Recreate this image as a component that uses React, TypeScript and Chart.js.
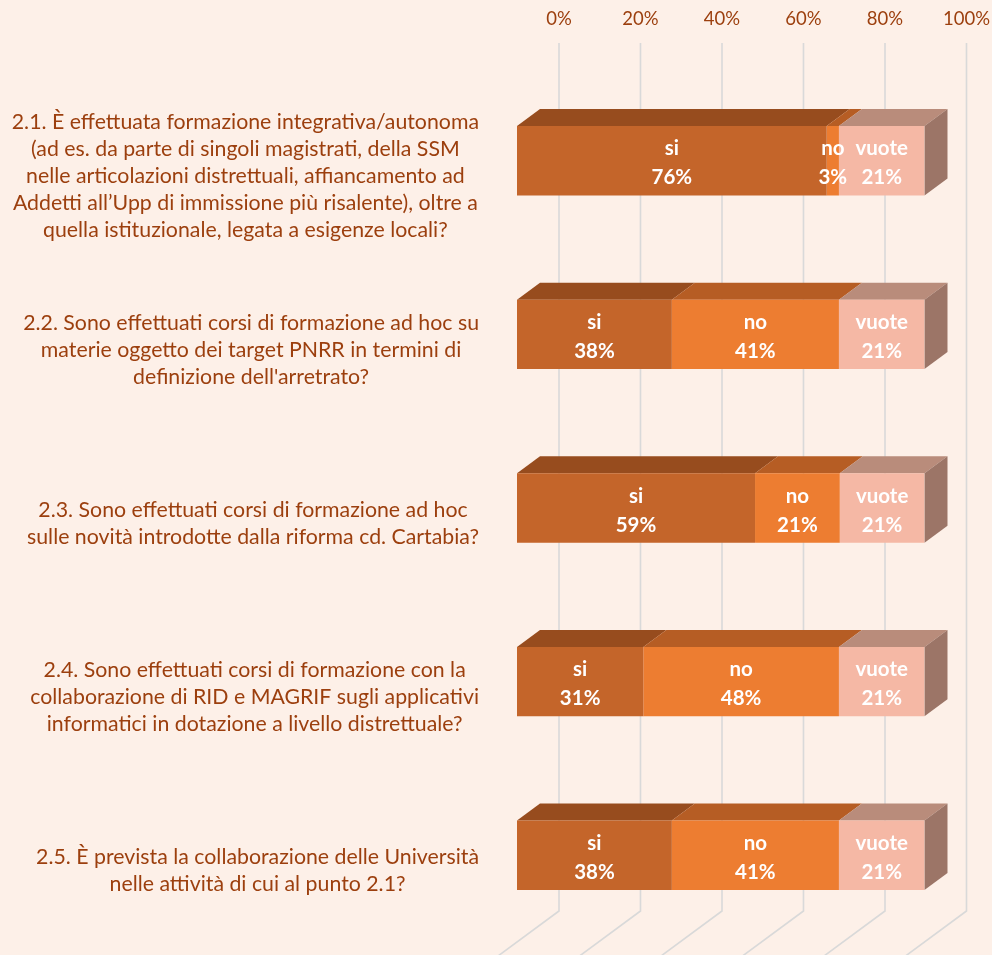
import React, { useEffect, useRef } from "react";
import { Chart, registerables } from "chart.js";

Chart.register(...registerables);

const questions: string[][] = [
  [
    "2.1. È effettuata formazione integrativa/autonoma",
    "(ad es. da parte di singoli magistrati, della SSM",
    "nelle articolazioni distrettuali, affiancamento ad",
    "Addetti all’Upp di immissione più risalente), oltre a",
    "quella istituzionale, legata a esigenze locali?",
  ],
  [
    "2.2. Sono effettuati corsi di formazione ad hoc su",
    "materie oggetto dei target PNRR in termini di",
    "definizione dell'arretrato?",
  ],
  [
    "2.3. Sono effettuati corsi di formazione ad hoc",
    "sulle novità introdotte dalla riforma cd. Cartabia?",
  ],
  [
    "2.4. Sono effettuati corsi di formazione con la",
    "collaborazione di RID e MAGRIF sugli applicativi",
    "informatici in dotazione a livello distrettuale?",
  ],
  [
    "2.5. È prevista la collaborazione delle Università",
    "nelle attività di cui al punto 2.1?",
  ],
];

const seriesNames = ["si", "no", "vuote"];
const siValues = [76, 38, 59, 31, 38];
const noValues = [3, 41, 21, 48, 41];
const vuoteValues = [21, 21, 21, 21, 21];
const xTicks = [0, 20, 40, 60, 80, 100];

const frontColors = ["#C4652A", "#ED7D31", "#F5B8A5"];
const topColors = ["#974C1E", "#B65D24", "#B98C7B"];
const sideColors = ["#9C7567", "#9C7567", "#9C7567"];

const BG = "#FDF0E8";
const TEXT = "#9C3F0E";
const GRID = "#D9D9D9";
const FONT = "Lato, 'Open Sans', sans-serif";

// oblique depth offsets
const WALL_DX = 42;
const WALL_DY = 31;
const BAR_DX = 23;
const BAR_DY = 17;

const rawSeries = [siValues, noValues, vuoteValues];
const totals = siValues.map((_, i) => siValues[i] + noValues[i] + vuoteValues[i]);
const shares = rawSeries.map((s) => s.map((v, i) => (v / totals[i]) * 100));

const threeD = {
  id: "threeD",
  beforeDraw(chart: any) {
    const { ctx } = chart;
    ctx.save();
    ctx.fillStyle = BG;
    ctx.fillRect(0, 0, chart.width, chart.height);
    ctx.restore();
  },
  beforeDatasetsDraw(chart: any) {
    const { ctx, chartArea } = chart;
    const xs = chart.scales.x;
    ctx.save();
    ctx.strokeStyle = GRID;
    ctx.lineWidth = 1.6;
    const backTop = chartArea.top - WALL_DY;
    const backBottom = chartArea.bottom - WALL_DY;
    xTicks.forEach((t) => {
      const x = xs.getPixelForValue(t) + WALL_DX;
      ctx.beginPath();
      ctx.moveTo(x, backTop);
      ctx.lineTo(x, backBottom);
      const k = 2;
      ctx.lineTo(x - WALL_DX * k, backBottom + WALL_DY * k);
      ctx.stroke();
    });
    // top and side faces
    const nDs = chart.data.datasets.length;
    for (let d = 0; d < nDs; d++) {
      const meta = chart.getDatasetMeta(d);
      meta.data.forEach((bar: any) => {
        const p = bar.getProps(["x", "y", "base", "height"], true);
        const x1 = Math.min(p.base, p.x);
        const x2 = Math.max(p.base, p.x);
        const top = p.y - p.height / 2;
        const bottom = p.y + p.height / 2;
        ctx.fillStyle = topColors[d];
        ctx.beginPath();
        ctx.moveTo(x1, top);
        ctx.lineTo(x2, top);
        ctx.lineTo(x2 + BAR_DX, top - BAR_DY);
        ctx.lineTo(x1 + BAR_DX, top - BAR_DY);
        ctx.closePath();
        ctx.fill();
        if (d === nDs - 1) {
          ctx.fillStyle = sideColors[d];
          ctx.beginPath();
          ctx.moveTo(x2, top);
          ctx.lineTo(x2 + BAR_DX, top - BAR_DY);
          ctx.lineTo(x2 + BAR_DX, bottom - BAR_DY);
          ctx.lineTo(x2, bottom);
          ctx.closePath();
          ctx.fill();
        }
      });
    }
    ctx.restore();
  },
  afterDatasetsDraw(chart: any) {
    const { ctx } = chart;
    ctx.save();
    ctx.fillStyle = "#FFFFFF";
    ctx.font = `bold 20.5px ${FONT}`;
    ctx.textAlign = "center";
    ctx.textBaseline = "middle";
    chart.data.datasets.forEach((ds: any, d: number) => {
      const meta = chart.getDatasetMeta(d);
      meta.data.forEach((bar: any, i: number) => {
        const p = bar.getProps(["x", "y", "base"], true);
        const cx = (p.x + p.base) / 2;
        ctx.fillText(seriesNames[d], cx, p.y - 12);
        ctx.fillText(`${rawSeries[d][i]}%`, cx, p.y + 17);
      });
    });
    ctx.restore();

    // category labels: block right-aligned, lines centered in block
    const ys = chart.scales.y;
    ctx.save();
    ctx.fillStyle = TEXT;
    ctx.font = `21.3px ${FONT}`;
    ctx.textAlign = "center";
    ctx.textBaseline = "middle";
    const right = 479;
    const lh = 27;
    questions.forEach((lines, i) => {
      const cy = ys.getPixelForValue(i) + WALL_DY / 2;
      const w = Math.max(...lines.map((l) => ctx.measureText(l).width));
      const cx = right - w / 2;
      const y0 = cy - ((lines.length - 1) * lh) / 2;
      lines.forEach((l, j) => ctx.fillText(l, cx, y0 + j * lh));
    });
    ctx.restore();
  },
};

export default function App() {
  const ref = useRef<HTMLCanvasElement | null>(null);
  useEffect(() => {
    document.body.style.margin = "0";
    document.body.style.background = BG;
    const canvas = ref.current!;
    const chart = new Chart(canvas, {
      type: "bar",
      data: {
        labels: questions.map((q) => q.join(" ")),
        datasets: seriesNames.map((name, d) => ({
          label: name,
          data: shares[d],
          backgroundColor: frontColors[d],
          borderWidth: 0,
          barPercentage: 1,
          categoryPercentage: 0.4,
        })),
      },
      options: {
        indexAxis: "y",
        animation: false,
        responsive: false,
        maintainAspectRatio: false,
        layout: { padding: { left: 517, right: 67, top: 10, bottom: 13 } },
        plugins: { legend: { display: false }, tooltip: { enabled: false } },
        scales: {
          x: {
            position: "top",
            stacked: true,
            min: 0,
            max: 100,
            grid: { display: false, drawTicks: false, tickLength: 0 },
            border: { display: false },
            afterFit: (scale: any) => {
              scale.height = 64;
            },
            ticks: {
              stepSize: 20,
              padding: 44,
              labelOffset: WALL_DX,
              color: TEXT,
              font: { family: FONT, size: 18.5 },
              callback: (v: any) => `${v}%`,
            },
          },
          y: {
            stacked: true,
            display: false,
          },
        },
      },
      plugins: [threeD],
    });
    return () => chart.destroy();
  }, []);
  return (
    <canvas
      ref={ref}
      width={992}
      height={955}
      style={{ display: "block", width: 992, height: 955 }}
    />
  );
}
